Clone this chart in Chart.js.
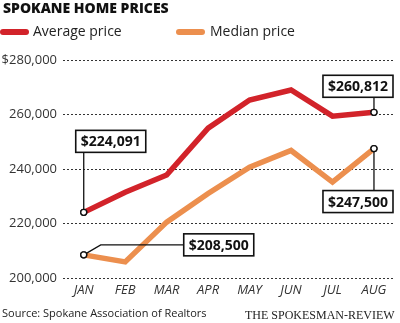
<!DOCTYPE html>
<html><head><meta charset="utf-8">
<script src="https://cdn.jsdelivr.net/npm/chart.js@4.4.1/dist/chart.umd.min.js"></script>
<style>
html,body{margin:0;padding:0;background:#fff;width:400px;height:323px;overflow:hidden;font-family:"Open Sans",sans-serif;}
#wrap{position:relative;width:400px;height:323px;}
canvas{position:absolute;left:0;top:0;}
.t{position:absolute;white-space:nowrap;line-height:1;}
</style></head><body>
<div id="wrap">
<canvas id="c" width="400" height="323"></canvas>
<div class="t" style="left:3px;top:1px;font-weight:800;font-size:14px;color:#111;">SPOKANE HOME PRICES</div>
<div class="t" style="left:0px;top:29px;width:29px;height:6px;border-radius:3px;background:#d2232a"></div>
<div class="t" style="left:33px;top:24px;font-size:14px;color:#222">Average price</div>
<div class="t" style="left:176px;top:29px;width:29px;height:6px;border-radius:3px;background:#ec8f4e"></div>
<div class="t" style="left:210px;top:24px;font-size:14px;color:#222">Median price</div>
<div class="t" style="left:2px;top:307px;font-size:11px;color:#222">Source: Spokane Association of Realtors</div>
<div class="t" style="left:245px;top:309px;font-size:12px;color:#222;font-family:'Liberation Serif',serif">THE SPOKESMAN-REVIEW</div>
</div>
<script>
const months = ['JAN','FEB','MAR','APR','MAY','JUN','JUL','AUG'];
const averagePrice = [224091, 231500, 237800, 255000, 265300, 269000, 259400, 260812];
const medianPrice  = [208500, 205900, 220500, 231000, 240700, 246800, 235200, 247500];
const yTicks = [200000, 220000, 240000, 260000, 280000];
const yTickLabels = ['200,000', '220,000', '240,000', '260,000', '$280,000'];

const fmt = v => '$' + v.toLocaleString('en-US');

// callouts: dataset index, point index, box placement relative to the point, leader style
const callouts = [
  {ds:0, i:0, boxLeft:-8, boxTop:-82, leader:'up'},
  {ds:0, i:7, boxLeft:-51, boxTop:-37, leader:'up'},
  {ds:1, i:7, boxLeft:-51, boxTop:42, leader:'down'},
  {ds:1, i:0, boxLeft:100, boxTop:-21, leader:'elbow'}
];

const calloutPlugin = {
  id:'callouts',
  afterDatasetsDraw(chart){
    const ctx = chart.ctx;
    ctx.save();
    ctx.font = 'bold 14px "Open Sans", sans-serif';
    callouts.forEach(c=>{
      const el = chart.getDatasetMeta(c.ds).data[c.i];
      const px = el.x, py = el.y;
      const txt = fmt(chart.data.datasets[c.ds].data[c.i]);
      const w = ctx.measureText(txt).width + 10;
      const h = 22;
      const bx = px + c.boxLeft, by = py + c.boxTop;
      ctx.strokeStyle = '#111'; ctx.lineWidth = 1.3;
      ctx.beginPath();
      if (c.leader==='up'){ ctx.moveTo(px, py); ctx.lineTo(px, by+h); }
      else if (c.leader==='down'){ ctx.moveTo(px, py); ctx.lineTo(px, by); }
      else { ctx.moveTo(px, py); ctx.lineTo(px+17, by+h/2); ctx.lineTo(bx, by+h/2); }
      ctx.stroke();
      ctx.fillStyle = '#fff';
      ctx.fillRect(bx, by, w, h);
      ctx.lineWidth = 1.6;
      ctx.strokeRect(bx, by, w, h);
      ctx.fillStyle = '#111';
      ctx.textBaseline = 'middle'; ctx.textAlign = 'center';
      ctx.fillText(txt, bx + w/2, by + h/2 + 1);
      ctx.beginPath(); ctx.arc(px, py, 3, 0, Math.PI*2);
      ctx.fillStyle = '#fff'; ctx.fill();
      ctx.lineWidth = 1.3; ctx.strokeStyle = '#111'; ctx.stroke();
    });
    ctx.restore();
  }
};

const last = months.length - 1;
const ptR = c => (c.dataIndex===0 || c.dataIndex===last) ? 3 : 0;

new Chart(document.getElementById('c'), {
  type:'line',
  data:{
    labels: months,
    datasets:[
      {label:'Average price', data: averagePrice, borderColor:'#d2232a', borderWidth:5.5, tension:0,
       pointRadius: ptR, pointBackgroundColor:'#fff', pointBorderColor:'#111', pointBorderWidth:1.3, borderJoinStyle:'miter'},
      {label:'Median price', data: medianPrice, borderColor:'#ec8f4e', borderWidth:5.5, tension:0,
       pointRadius: ptR, pointBackgroundColor:'#fff', pointBorderColor:'#111', pointBorderWidth:1.3, borderJoinStyle:'miter'}
    ]
  },
  options:{
    responsive:false, animation:false,
    layout:{padding:{left:0, right:2, top:60, bottom:25}},
    plugins:{legend:{display:false}, tooltip:{enabled:false}, title:{display:false}},
    scales:{
      x:{
        offset:true,
        grid:{display:false, drawTicks:false},
        border:{display:false},
        ticks:{padding:4, color:'#333', font:{family:'"Open Sans", sans-serif', size:13, style:'italic'}},
        afterFit(s){ s.height = 20; }
      },
      y:{
        min:200000, max:280000,
        afterBuildTicks(s){ s.ticks = yTicks.map(v=>({value:v})); },
        grid:{color:'#333', lineWidth:1, drawTicks:false},
        border:{display:false, dash:[2,2]},
        ticks:{padding:6, color:'#333', font:{family:'"Open Sans", sans-serif', size:13},
               callback:(v)=>{ const k = yTicks.indexOf(v); return k>=0 ? yTickLabels[k] : ''; }},
        afterFit(s){ s.width = 63; }
      }
    }
  },
  plugins:[calloutPlugin]
});
</script>
</body></html>
